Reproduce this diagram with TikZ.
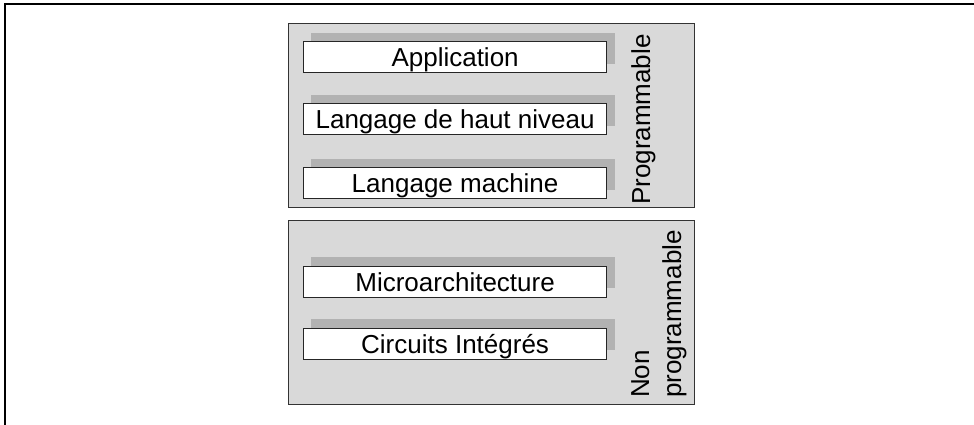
\documentclass[tikz,border=0pt]{standalone}
\usepackage{fontspec}
\setmainfont{Liberation Sans}
\begin{document}
\begin{tikzpicture}[x=1pt,y=-1pt,
  panel/.style={draw=black!80, line width=1.2pt, fill=black!15},
  shade/.style={fill=black!30, draw=none},
  layerbox/.style={draw=black!85, line width=1.2pt, fill=white, minimum width=303pt, minimum height=31pt, inner sep=0pt, text height=18.6pt, text depth=0pt, anchor=north west, font=\fontsize{26}{30}\selectfont},
  sidelabel/.style={rotate=90, anchor=base west, inner sep=0pt, font=\fontsize{26}{30}\selectfont}]
\useasboundingbox (0,0) rectangle (974,424);
% outer frame (top and left only)
\coordinate (ftr) at (974,4);
\coordinate (ftl) at (5,4);
\coordinate (fbl) at (5,424);
\draw[line width=2.6pt, line cap=rect] (ftr) -- (ftl) -- (fbl);
% panels
\node[panel, anchor=north west, minimum width=406pt, minimum height=184pt, inner sep=0pt] (up) at (288,23) {};
\node[panel, anchor=north west, minimum width=406pt, minimum height=184pt, inner sep=0pt] (lo) at (288,220) {};
% shadows
\fill[shade] (311,33) rectangle (615,64);
\fill[shade] (311,95) rectangle (615,126);
\fill[shade] (311,159) rectangle (615,190);
\fill[shade] (311,257) rectangle (615,288);
\fill[shade] (311,319) rectangle (615,350);
% boxes
\node[layerbox] (app) at (303,41) {Application};
\node[layerbox] (hl) at (303,103) {Langage de haut niveau};
\node[layerbox] (lm) at (303,167) {Langage machine};
\node[layerbox] (ma) at (303,266) {Microarchitecture};
\node[layerbox] (ci) at (303,328) {Circuits Intégrés};
% side labels
\node[sidelabel] (prog) at (650,205) {Programmable};
\node[sidelabel] (non) at (649,398) {Non};
\node[sidelabel] (nprog) at (681,398) {programmable};
\end{tikzpicture}
\end{document}
